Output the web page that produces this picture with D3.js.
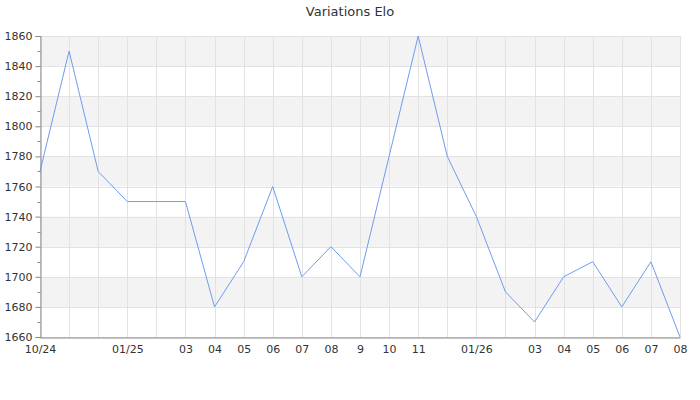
<!DOCTYPE html>
<html><head><meta charset="utf-8">
<script src="https://cdn.jsdelivr.net/npm/d3@7"></script>
<style>body{margin:0;background:#fff}svg{display:block}text{font-family:"DejaVu Sans",sans-serif}</style>
</head><body>
<svg id="c" width="700" height="400"></svg>
<script>
const labels = ["10/24","","","01/25","","03","04","05","06","07","08","9","10","11","","01/26","","03","04","05","06","07","08"];
const values = [1770,1850,1770,1750,1750,1750,1680,1710,1760,1700,1720,1700,1780,1860,1780,1740,1690,1670,1700,1710,1680,1710,1660];
const yTicks = [1660,1680,1700,1720,1740,1760,1780,1800,1820,1840,1860];
const title = "Variations Elo";

const svg = d3.select("#c");
const m = {l:40, r:20, t:36, b:63};
const W = 700, H = 400;
const x = d3.scaleLinear().domain([0, values.length-1]).range([m.l, W-m.r]);
const y = d3.scaleLinear().domain([1660,1860]).range([H-m.b, m.t]);

// bands
const bands = [];
for (let i = 0; i < yTicks.length-1; i++) if (i % 2 === 1) bands.push([yTicks[i], yTicks[i+1]]);
svg.append("g").selectAll("rect").data(bands).join("rect")
  .attr("x", x(0)).attr("width", x(values.length-1)-x(0))
  .attr("y", d => y(d[1])).attr("height", d => y(d[0])-y(d[1]))
  .attr("fill", "#f3f3f3");

// horizontal grid
svg.append("g").selectAll("line").data(yTicks).join("line")
  .attr("x1", x(0)).attr("x2", x(values.length-1))
  .attr("y1", d => Math.round(y(d))+0.5).attr("y2", d => Math.round(y(d))+0.5)
  .attr("stroke", "#e2e2e2");
// vertical grid
svg.append("g").selectAll("line").data(d3.range(values.length)).join("line")
  .attr("x1", d => Math.round(x(d))+0.5).attr("x2", d => Math.round(x(d))+0.5)
  .attr("y1", y(1860)).attr("y2", y(1660))
  .attr("stroke", "#e2e2e2");

// line
svg.append("path").datum(values)
  .attr("fill","none").attr("stroke","#6f9cf0").attr("stroke-width",1)
  .attr("d", d3.line().x((d,i)=>x(i)).y(d=>y(d)));

// y axis
const ya = svg.append("g").attr("transform", `translate(${Math.round(x(0))+0.5},0)`);
ya.call(d3.axisLeft(y).tickValues(yTicks).tickSize(5).tickPadding(3).tickFormat(d3.format("d")));
const minor = d3.range(1670, 1860, 20);
ya.append("g").selectAll("line").data(minor).join("line")
  .attr("x1", -3).attr("x2", 0)
  .attr("y1", d => Math.round(y(d))+0.5).attr("y2", d => Math.round(y(d))+0.5)
  .attr("stroke", "#888");
ya.select(".domain").attr("stroke","#888");
ya.selectAll(".tick line").attr("stroke","#888");
ya.selectAll(".tick text").attr("fill","#333").style("font-size","11px");

// x axis
const xa = svg.append("g").attr("transform", `translate(0,${Math.round(y(1660))+0.5})`);
xa.call(d3.axisBottom(x).tickValues(d3.range(values.length).filter(i=>labels[i]!=="")).tickSize(0).tickPadding(8).tickFormat(i=>labels[i]));
xa.select(".domain").attr("stroke","#888");
xa.selectAll(".tick text").attr("fill","#333").style("font-size","11px");

svg.append("text").attr("x", 350).attr("y", 16).attr("text-anchor","middle")
  .attr("fill","#333").style("font-size","13px").text(title);
</script>
</body></html>
